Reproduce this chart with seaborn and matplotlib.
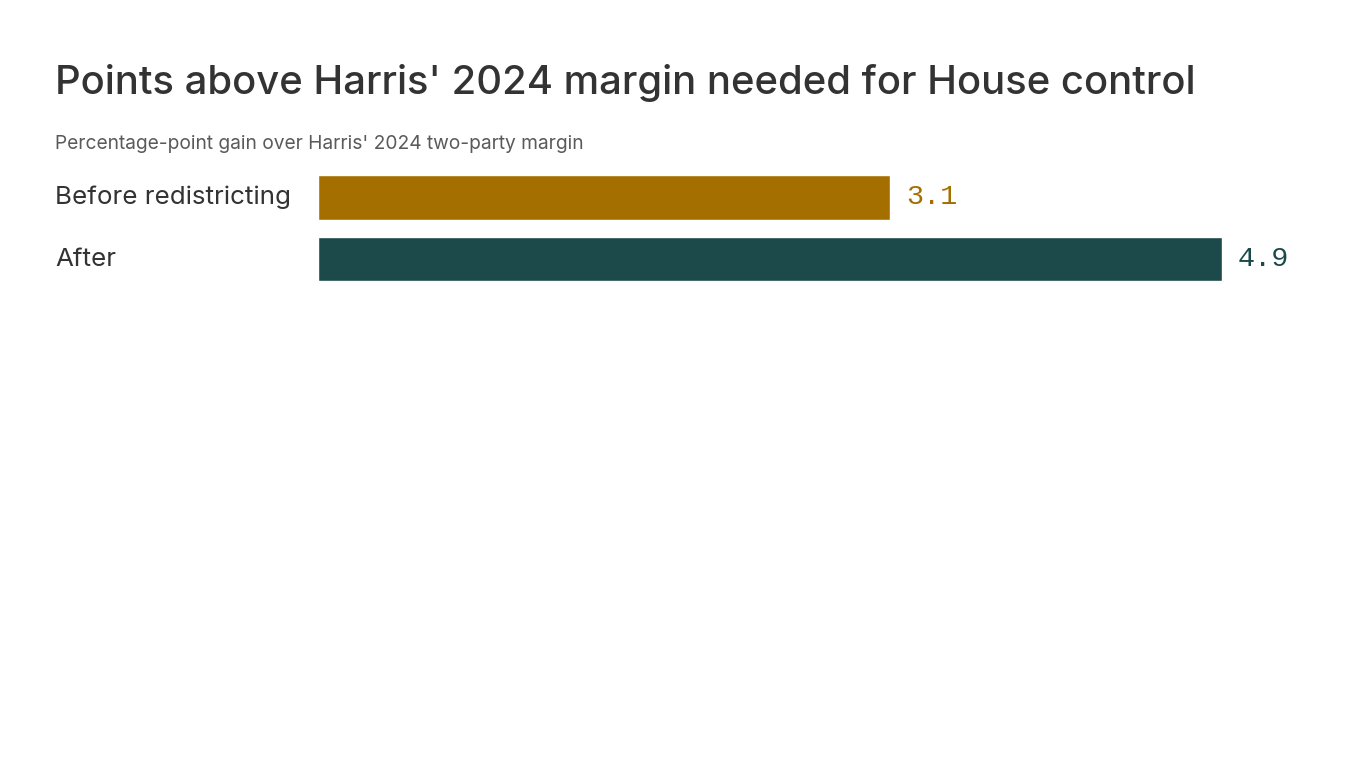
import matplotlib
matplotlib.use('Agg')
import matplotlib.pyplot as plt
import matplotlib.transforms as mtransforms
import seaborn as sns
import pandas as pd

categories = ['Before redistricting', 'After']
values = [3.1, 4.9]
bar_colors = ['#A56F00', '#1C4A4B']

sns.set_style("white")
plt.rcParams['font.family'] = ['Inter', 'DejaVu Sans']

df = pd.DataFrame({'label': categories, 'value': values})

fig = plt.figure(figsize=(13.66, 7.68), dpi=100)
W, H = 1366, 768
ax = fig.add_axes([318 / W, 1 - 289.75 / H, (1222 - 318) / W, 123 / H])

sns.barplot(data=df, x='value', y='label', hue='label', palette=bar_colors,
            width=0.72, saturation=1, legend=False, ax=ax)

ax.set_xlim(0, 4.9)
ax.set_ylim(1.5, -0.5)
ax.set_xlabel('')
ax.set_ylabel('')
ax.set_xticks([])
ax.set_yticks([])
sns.despine(ax=ax, left=True, bottom=True)

# value labels in monospace
for i, (v, c) in enumerate(zip(values, bar_colors)):
    ax.annotate(f'{v:.1f}', (v, i), xytext=(16, 0),
                textcoords='offset pixels', ha='left', va='center',
                fontsize=20.5, color=c, family=['Liberation Mono', 'DejaVu Sans Mono'])

trans = mtransforms.blended_transform_factory(fig.transFigure, ax.transData)
for i, lab in enumerate(categories):
    ax.text(55 / W, i, lab, transform=trans, ha='left', va='center',
            fontsize=18.7, color='#333333', clip_on=False)

fig.text(55 / W, 1 - 83 / H, "Points above Harris' 2024 margin needed for House control",
         ha='left', va='center', fontsize=28.8, weight='medium', color='#333333')
fig.text(55 / W, 1 - 144 / H, "Percentage-point gain over Harris' 2024 two-party margin",
         ha='left', va='center', fontsize=13.8, color='#5a5a5a')

fig.savefig('out.png', dpi=100)
